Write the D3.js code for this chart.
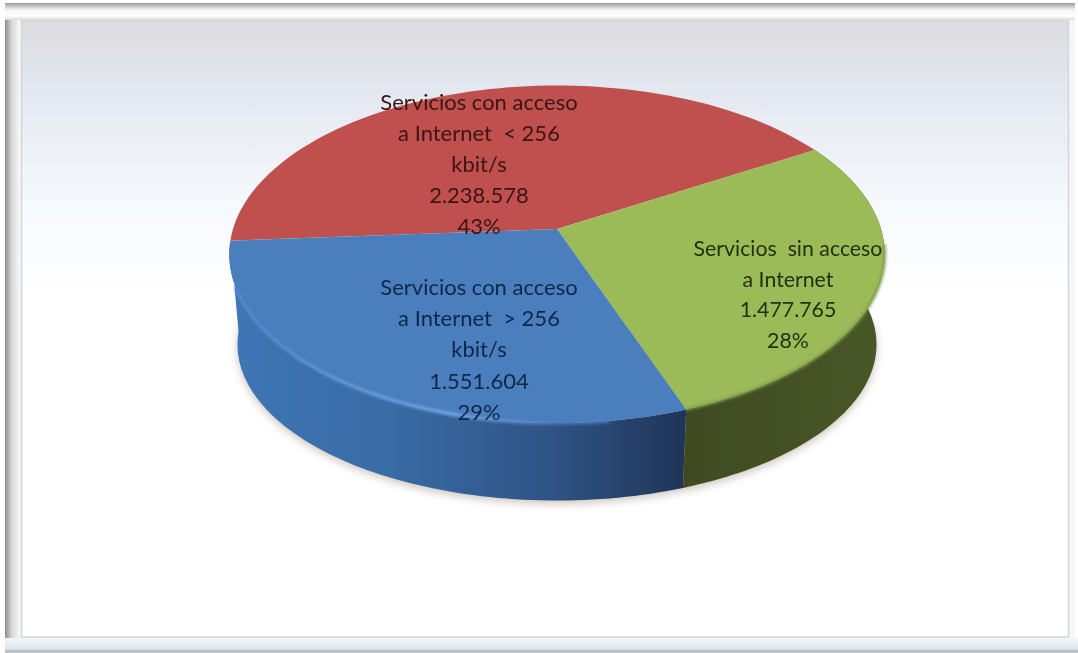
<!DOCTYPE html>
<html>
<head>
<meta charset="utf-8">
<script src="https://cdn.jsdelivr.net/npm/d3@7"></script>
<style>
  html, body { margin: 0; padding: 0; background: #fff; overflow: hidden; }
  svg { display: block; }
  text { font-family: Lato, "Open Sans", sans-serif; font-size: 22px; white-space: pre; }
  text.sinAcceso { font-size: 21.3px; }
</style>
</head>
<body>
<div id="chart"></div>
<script>
const categories = ['conMenor', 'sinAcceso', 'conMayor'];
const values = [2238578, 1477765, 1551604];
const percents = ['43%', '28%', '29%'];
const nameLines = [
  ['Servicios con acceso', 'a Internet  < 256', 'kbit/s'],
  ['Servicios  sin acceso', 'a Internet'],
  ['Servicios con acceso', 'a Internet  > 256', 'kbit/s']
];
const topColors = ['#c0504d', '#9bbb59', '#4a7ebc'];
const labelCenters = [[479, 110], [788, 256], [479, 295]];
const labelSteps = [31, 30.5, 31.2];
const textColors = ['#3a1414', '#24300f', '#10274a'];

const width = 1078;
const height = 653;
const numFormat = d3.formatLocale({ decimal: ',', thousands: '.', grouping: [3], currency: ['', ''] }).format(',d');

const svg = d3.select('#chart').append('svg').attr('width', width).attr('height', height);
const defs = svg.append('defs');

function linearGrad(id, x1, y1, x2, y2, stops) {
  const g = defs.append('linearGradient').attr('id', id)
    .attr('gradientUnits', 'userSpaceOnUse')
    .attr('x1', x1).attr('y1', y1).attr('x2', x2).attr('y2', y2);
  stops.forEach(s => g.append('stop').attr('offset', s[0]).attr('stop-color', s[1]));
}

linearGrad('panelFill', 0, 21, 0, 637, [[0, '#dddcdf'], [0.1, '#e2e6ef'], [0.3, '#f6f9fd'], [0.45, '#ffffff'], [1, '#ffffff']]);
linearGrad('frameLeft', 5, 0, 20, 0, [[0, '#8c8c8c'], [0.45, '#d8d8d8'], [1, '#f8f9fa']]);
linearGrad('frameTop', 0, 3, 0, 20, [[0, '#9a9a9a'], [0.4, '#f5f5f5'], [0.75, '#ffffff'], [1, '#dcdcdc']]);
linearGrad('frameBottom', 0, 638, 0, 653, [[0, '#f2f6fb'], [0.7, '#dfe6ef'], [0.95, '#a9adb2'], [1, '#ffffff']]);
linearGrad('wallBlue', 229, 0, 685, 0, [[0, '#3f76b6'], [0.35, '#396ba5'], [0.7, '#2f5486'], [1, '#1f3558']]);
linearGrad('wallGreen', 685, 0, 885, 0, [[0, '#3f4a20'], [1, '#485727']]);
linearGrad('rimBlue', 235, 0, 560, 0, [[0, '#4f88c8'], [0.65, '#78ade8'], [1, '#4a7ebc']]);

defs.append('filter').attr('id', 'soft').attr('x', '-20%').attr('y', '-20%').attr('width', '140%').attr('height', '140%')
  .append('feGaussianBlur').attr('stdDeviation', 4);
defs.append('filter').attr('id', 'edge').attr('x', '-5%').attr('y', '-5%').attr('width', '110%').attr('height', '110%')
  .append('feGaussianBlur').attr('stdDeviation', 1.4);
defs.append('filter').attr('id', 'textSoft')
  .append('feGaussianBlur').attr('stdDeviation', 0.4);

// frame
svg.append('rect').attr('x', 5).attr('y', 3).attr('width', 1070).attr('height', 647).attr('fill', '#f4f6f9');
svg.append('rect').attr('x', 5).attr('y', 3).attr('width', 15).attr('height', 647).attr('fill', 'url(#frameLeft)');
svg.append('rect').attr('x', 5).attr('y', 3).attr('width', 1070).attr('height', 17).attr('fill', 'url(#frameTop)');
svg.append('rect').attr('x', 5).attr('y', 638).attr('width', 1073).attr('height', 15).attr('fill', 'url(#frameBottom)');
svg.append('rect').attr('x', 21.5).attr('y', 20.5).attr('width', 1047).attr('height', 616.5)
  .attr('fill', 'url(#panelFill)').attr('stroke', '#d4d6d8').attr('stroke-width', 1.5);

// pie in perspective
const cx = 557, cy = 229, rx = 324, ry = 165, k = 0.15;
const wallDrop = 92, wallScaleX = 0.975, wallScaleY = 0.925;

function topPoint(a) {
  const s = 1 / (1 + k * Math.cos(a));
  return [cx + rx * Math.sin(a) * s, cy - ry * Math.cos(a) * s];
}
function bottomPoint(a) {
  const s = 1 / (1 + k * Math.cos(a));
  return [cx + wallScaleX * rx * Math.sin(a) * s, cy + wallDrop - wallScaleY * ry * Math.cos(a) * s];
}
function arcAngles(a0, a1) {
  return d3.range(0, 81).map(i => a0 + (a1 - a0) * i / 80);
}

const startAngle = 266 * Math.PI / 180;
const slices = d3.pie().sort(null)
  .startAngle(startAngle).endAngle(startAngle + 2 * Math.PI)(values);

const line = d3.line();

// shadow under the disc
svg.append('path')
  .attr('d', line(arcAngles(Math.PI / 2, 3 * Math.PI / 2).map(a => { const p = bottomPoint(a); return [p[0], p[1] + 3]; })) + 'Z')
  .attr('fill', '#a39486').attr('opacity', 0.55).attr('filter', 'url(#soft)');

const wallFills = [null, 'url(#wallGreen)', 'url(#wallBlue)'];
slices.forEach((d, i) => {
  if (!wallFills[i]) return;
  const angles = arcAngles(d.startAngle, d.endAngle);
  const pts = angles.map(topPoint).concat(angles.slice().reverse().map(bottomPoint));
  svg.append('path').attr('class', 'wall').attr('d', line(pts) + 'Z').attr('fill', wallFills[i]);
});

slices.forEach((d, i) => {
  const pts = [[cx, cy]].concat(arcAngles(d.startAngle, d.endAngle).map(topPoint));
  svg.append('path').attr('class', 'slice').attr('d', line(pts) + 'Z').attr('fill', topColors[i]);
});

// soft rim along the front edge
const rad = deg => deg * Math.PI / 180;
svg.append('path')
  .attr('d', line(arcAngles(rad(250), rad(172)).map(topPoint)))
  .attr('fill', 'none').attr('stroke', 'url(#rimBlue)').attr('stroke-width', 3).attr('filter', 'url(#edge)');
svg.append('path')
  .attr('d', line(arcAngles(rad(160), rad(95)).map(topPoint)))
  .attr('fill', 'none').attr('stroke', '#7c9a48').attr('stroke-width', 2.5).attr('filter', 'url(#edge)');

// labels
slices.forEach((d, i) => {
  const rows = nameLines[i].concat([numFormat(values[i]), percents[i]]);
  const label = svg.append('text')
    .attr('class', 'label ' + categories[i])
    .attr('text-anchor', 'middle')
    .attr('fill', textColors[i])
    .attr('filter', 'url(#textSoft)');
  rows.forEach((row, j) => {
    label.append('tspan')
      .attr('x', labelCenters[i][0])
      .attr('y', labelCenters[i][1] + j * labelSteps[i])
      .text(row);
  });
});
</script>
</body>
</html>
